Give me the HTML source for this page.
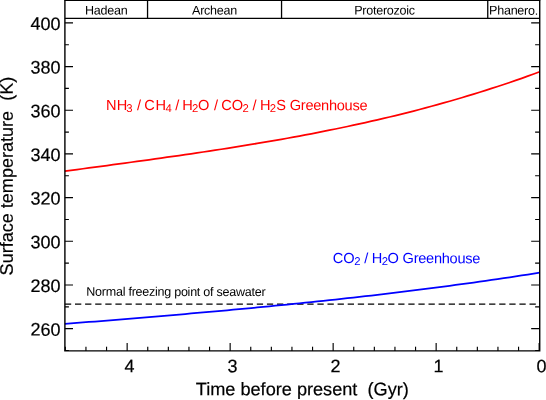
<!DOCTYPE html>
<html><head><meta charset="utf-8"><title>Surface temperature vs. time before present</title>
<style>
html,body{margin:0;padding:0;background:#fff;}
body{width:546px;height:400px;overflow:hidden;font-family:"Liberation Sans",sans-serif;}
svg{display:block;position:absolute;left:0;top:0;will-change:transform;}
text{font-family:"Liberation Sans",sans-serif;fill:#000;text-rendering:geometricPrecision;}
.t18,.tx,.ty{stroke:#000;stroke-width:0.2px;}
.t18{font-size:18px;}
.tx{font-size:18.15px;}
.ty{font-size:18.06px;}
.t12{font-size:12.55px;letter-spacing:-0.26px;}
.t13{font-size:14.6px;}
.sub{font-size:11.3px;}
</style></head><body>
<svg width="546" height="400" viewBox="0 0 546 400">
<rect x="0" y="0" width="546" height="400" fill="#fff"/>

<path d="M64.9,304.2 H539.72" fill="none" stroke="#000" stroke-width="1.3" stroke-dasharray="6.3 3.8" stroke-dashoffset="0"/>
<path d="M64.9,171.18 L70.9,170.37 L76.9,169.56 L82.9,168.75 L88.9,167.94 L95.0,167.13 L101.0,166.32 L107.0,165.51 L113.0,164.70 L119.0,163.88 L125.0,163.07 L131.0,162.25 L137.0,161.43 L143.0,160.60 L149.0,159.77 L155.1,158.93 L161.1,158.09 L167.1,157.24 L173.1,156.39 L179.1,155.53 L185.1,154.66 L191.1,153.78 L197.1,152.90 L203.1,152.00 L209.1,151.10 L215.2,150.18 L221.2,149.26 L227.2,148.32 L233.2,147.38 L239.2,146.42 L245.2,145.44 L251.2,144.46 L257.2,143.46 L263.2,142.45 L269.3,141.42 L275.3,140.38 L281.3,139.32 L287.3,138.24 L293.3,137.15 L299.3,136.04 L305.3,134.92 L311.3,133.77 L317.3,132.61 L323.3,131.43 L329.4,130.22 L335.4,129.00 L341.4,127.76 L347.4,126.49 L353.4,125.21 L359.4,123.90 L365.4,122.57 L371.4,121.21 L377.4,119.83 L383.5,118.43 L389.5,117.00 L395.5,115.55 L401.5,114.07 L407.5,112.57 L413.5,111.04 L419.5,109.48 L425.5,107.89 L431.5,106.27 L437.5,104.63 L443.6,102.96 L449.6,101.25 L455.6,99.52 L461.6,97.76 L467.6,95.96 L473.6,94.13 L479.6,92.27 L485.6,90.38 L491.6,88.45 L497.6,86.49 L503.7,84.49 L509.7,82.46 L515.7,80.40 L521.7,78.30 L527.7,76.16 L533.7,73.98 L539.7,71.77" fill="none" stroke="#ff0000" stroke-width="1.75"/>
<path d="M64.9,323.91 L70.9,323.43 L76.9,322.95 L82.9,322.47 L88.9,321.99 L95.0,321.51 L101.0,321.03 L107.0,320.54 L113.0,320.05 L119.0,319.56 L125.0,319.07 L131.0,318.58 L137.0,318.08 L143.0,317.58 L149.0,317.08 L155.1,316.58 L161.1,316.07 L167.1,315.56 L173.1,315.05 L179.1,314.54 L185.1,314.02 L191.1,313.49 L197.1,312.97 L203.1,312.44 L209.1,311.90 L215.2,311.36 L221.2,310.82 L227.2,310.27 L233.2,309.72 L239.2,309.17 L245.2,308.61 L251.2,308.04 L257.2,307.47 L263.2,306.89 L269.3,306.31 L275.3,305.73 L281.3,305.13 L287.3,304.54 L293.3,303.93 L299.3,303.32 L305.3,302.71 L311.3,302.09 L317.3,301.46 L323.3,300.83 L329.4,300.19 L335.4,299.54 L341.4,298.89 L347.4,298.22 L353.4,297.56 L359.4,296.88 L365.4,296.20 L371.4,295.51 L377.4,294.81 L383.5,294.11 L389.5,293.39 L395.5,292.67 L401.5,291.94 L407.5,291.20 L413.5,290.46 L419.5,289.70 L425.5,288.94 L431.5,288.17 L437.5,287.39 L443.6,286.60 L449.6,285.80 L455.6,284.99 L461.6,284.17 L467.6,283.35 L473.6,282.51 L479.6,281.66 L485.6,280.80 L491.6,279.94 L497.6,279.06 L503.7,278.17 L509.7,277.28 L515.7,276.37 L521.7,275.45 L527.7,274.52 L533.7,273.58 L539.7,272.62" fill="none" stroke="#0000ff" stroke-width="1.75"/>
<g stroke="#000" stroke-width="1.4" fill="none">
<path d="M64.9,0.4 V350.9 H539.72 V0.4"/>
</g>
<path d="M64.9,18.42 H539.72" stroke="#000" stroke-width="1.15" fill="none"/>
<path d="M64.2,0.4 H540.4200000000001" stroke="#000" stroke-width="1.2" fill="none"/>
<g stroke="#000" stroke-width="1.3" fill="none">
<path d="M147.55,0.4 V18.42"/>
<path d="M281.55,0.4 V18.42"/>
<path d="M487.75,0.4 V18.42"/>
</g>
<g stroke="#000" stroke-width="1.15" fill="none">
<path d="M64.9,350.48 h4.0 M539.72,350.48 h-4.6"/>
<path d="M64.9,328.65 h8.1 M539.72,328.65 h-8.55"/>
<path d="M64.9,306.81 h4.0 M539.72,306.81 h-4.6"/>
<path d="M64.9,284.97 h8.1 M539.72,284.97 h-8.55"/>
<path d="M64.9,263.13 h4.0 M539.72,263.13 h-4.6"/>
<path d="M64.9,241.29 h8.1 M539.72,241.29 h-8.55"/>
<path d="M64.9,219.45 h4.0 M539.72,219.45 h-4.6"/>
<path d="M64.9,197.61 h8.1 M539.72,197.61 h-8.55"/>
<path d="M64.9,175.77 h4.0 M539.72,175.77 h-4.6"/>
<path d="M64.9,153.93 h8.1 M539.72,153.93 h-8.55"/>
<path d="M64.9,132.09 h4.0 M539.72,132.09 h-4.6"/>
<path d="M64.9,110.26 h8.1 M539.72,110.26 h-8.55"/>
<path d="M64.9,88.42 h4.0 M539.72,88.42 h-4.6"/>
<path d="M64.9,66.58 h8.1 M539.72,66.58 h-8.55"/>
<path d="M64.9,44.74 h4.0 M539.72,44.74 h-4.6"/>
<path d="M64.9,22.90 h8.1 M539.72,22.90 h-8.55"/>
<path d="M539.15,350.9 v-8"/>
<path d="M518.55,350.9 v-4.2"/>
<path d="M497.95,350.9 v-4.2"/>
<path d="M477.35,350.9 v-4.2"/>
<path d="M456.75,350.9 v-4.2"/>
<path d="M436.15,350.9 v-8"/>
<path d="M415.55,350.9 v-4.2"/>
<path d="M394.95,350.9 v-4.2"/>
<path d="M374.35,350.9 v-4.2"/>
<path d="M353.75,350.9 v-4.2"/>
<path d="M333.15,350.9 v-8"/>
<path d="M312.55,350.9 v-4.2"/>
<path d="M291.95,350.9 v-4.2"/>
<path d="M271.35,350.9 v-4.2"/>
<path d="M250.75,350.9 v-4.2"/>
<path d="M230.15,350.9 v-8"/>
<path d="M209.55,350.9 v-4.2"/>
<path d="M188.95,350.9 v-4.2"/>
<path d="M168.35,350.9 v-4.2"/>
<path d="M147.75,350.9 v-4.2"/>
<path d="M127.15,350.9 v-8"/>
<path d="M106.55,350.9 v-4.2"/>
<path d="M85.95,350.9 v-4.2"/>
<path d="M65.35,350.9 v-4.2"/>
</g>
<text class="t18" transform="translate(60.55,335.65) rotate(0.05)" text-anchor="end" xml:space="preserve">260</text>
<text class="t18" transform="translate(60.55,291.97) rotate(0.05)" text-anchor="end" xml:space="preserve">280</text>
<text class="t18" transform="translate(60.55,248.29) rotate(0.05)" text-anchor="end" xml:space="preserve">300</text>
<text class="t18" transform="translate(60.55,204.61) rotate(0.05)" text-anchor="end" xml:space="preserve">320</text>
<text class="t18" transform="translate(60.55,160.93) rotate(0.05)" text-anchor="end" xml:space="preserve">340</text>
<text class="t18" transform="translate(60.55,117.26) rotate(0.05)" text-anchor="end" xml:space="preserve">360</text>
<text class="t18" transform="translate(60.55,73.58) rotate(0.05)" text-anchor="end" xml:space="preserve">380</text>
<text class="t18" transform="translate(60.55,29.90) rotate(0.05)" text-anchor="end" xml:space="preserve">400</text>
<text class="t18" transform="translate(541.45,372.20) rotate(0.05)" text-anchor="middle" xml:space="preserve">0</text>
<text class="t18" transform="translate(438.45,372.20) rotate(0.05)" text-anchor="middle" xml:space="preserve">1</text>
<text class="t18" transform="translate(335.45,372.20) rotate(0.05)" text-anchor="middle" xml:space="preserve">2</text>
<text class="t18" transform="translate(232.45,372.20) rotate(0.05)" text-anchor="middle" xml:space="preserve">3</text>
<text class="t18" transform="translate(129.45,372.20) rotate(0.05)" text-anchor="middle" xml:space="preserve">4</text>
<text class="tx" transform="translate(302.25,395.30) rotate(0.05)" text-anchor="middle" xml:space="preserve">Time before present  (Gyr)</text>
<text class="ty" transform="translate(12.80,176.10) rotate(-89.95)" text-anchor="middle" xml:space="preserve">Surface temperature  (K)</text>
<text class="t12" transform="translate(106.23,14.60) rotate(0.05)" text-anchor="middle" xml:space="preserve">Hadean</text>
<text class="t12" transform="translate(214.47,14.60) rotate(0.05)" text-anchor="middle" xml:space="preserve">Archean</text>
<text class="t12" transform="translate(384.55,14.60) rotate(0.05)" text-anchor="middle" xml:space="preserve">Proterozoic</text>
<text class="t12" transform="translate(489.10,14.60) rotate(0.05)" xml:space="preserve">Phanero.</text>
<text class="t12" transform="translate(86.30,295.80) rotate(0.05)" xml:space="preserve">Normal freezing point of seawater</text>
<text class="t13" transform="translate(106.10,110.10) rotate(0.05)" style="fill:#ff0000" xml:space="preserve">NH</text>
<text class="sub" transform="translate(126.17,112.10) rotate(0.05)" style="fill:#ff0000" xml:space="preserve">3</text>
<text class="t13" transform="translate(137.00,110.10) rotate(0.05)" style="fill:#ff0000" xml:space="preserve">/</text>
<text class="t13" transform="translate(144.16,110.10) rotate(0.05)" style="fill:#ff0000" xml:space="preserve">C</text>
<text class="t13" transform="translate(155.50,110.10) rotate(0.05)" style="fill:#ff0000" xml:space="preserve">H</text>
<text class="sub" transform="translate(165.54,112.10) rotate(0.05)" style="fill:#ff0000" xml:space="preserve">4</text>
<text class="t13" transform="translate(175.20,110.10) rotate(0.05)" style="fill:#ff0000" xml:space="preserve">/</text>
<text class="t13" transform="translate(182.20,110.10) rotate(0.05)" style="fill:#ff0000" xml:space="preserve">H</text>
<text class="sub" transform="translate(191.93,112.10) rotate(0.05)" style="fill:#ff0000" xml:space="preserve">2</text>
<text class="t13" transform="translate(198.01,110.10) rotate(0.05)" style="fill:#ff0000" xml:space="preserve">O</text>
<text class="t13" transform="translate(213.90,110.10) rotate(0.05)" style="fill:#ff0000" xml:space="preserve">/</text>
<text class="t13" transform="translate(221.36,110.10) rotate(0.05)" style="fill:#ff0000" xml:space="preserve">C</text>
<text class="t13" transform="translate(231.81,110.10) rotate(0.05)" style="fill:#ff0000" xml:space="preserve">O</text>
<text class="sub" transform="translate(242.53,112.10) rotate(0.05)" style="fill:#ff0000" xml:space="preserve">2</text>
<text class="t13" transform="translate(252.60,110.10) rotate(0.05)" style="fill:#ff0000" xml:space="preserve">/</text>
<text class="t13" transform="translate(260.00,110.10) rotate(0.05)" style="fill:#ff0000" xml:space="preserve">H</text>
<text class="sub" transform="translate(269.83,112.10) rotate(0.05)" style="fill:#ff0000" xml:space="preserve">2</text>
<text class="t13" transform="translate(276.14,110.10) rotate(0.05)" style="fill:#ff0000" xml:space="preserve">S</text>
<text class="t13" transform="translate(289.77,110.10) rotate(0.05)" style="fill:#ff0000" textLength="77.8" lengthAdjust="spacing" xml:space="preserve">Greenhouse</text>
<text class="t13" transform="translate(332.86,263.10) rotate(0.05)" style="fill:#0000ff" xml:space="preserve">C</text>
<text class="t13" transform="translate(343.31,263.10) rotate(0.05)" style="fill:#0000ff" xml:space="preserve">O</text>
<text class="sub" transform="translate(354.13,265.10) rotate(0.05)" style="fill:#0000ff" xml:space="preserve">2</text>
<text class="t13" transform="translate(364.30,263.10) rotate(0.05)" style="fill:#0000ff" xml:space="preserve">/</text>
<text class="t13" transform="translate(371.70,263.10) rotate(0.05)" style="fill:#0000ff" xml:space="preserve">H</text>
<text class="sub" transform="translate(381.63,265.10) rotate(0.05)" style="fill:#0000ff" xml:space="preserve">2</text>
<text class="t13" transform="translate(387.51,263.10) rotate(0.05)" style="fill:#0000ff" xml:space="preserve">O</text>
<text class="t13" transform="translate(402.57,263.10) rotate(0.05)" style="fill:#0000ff" textLength="77.8" lengthAdjust="spacing" xml:space="preserve">Greenhouse</text>
</svg></body></html>
